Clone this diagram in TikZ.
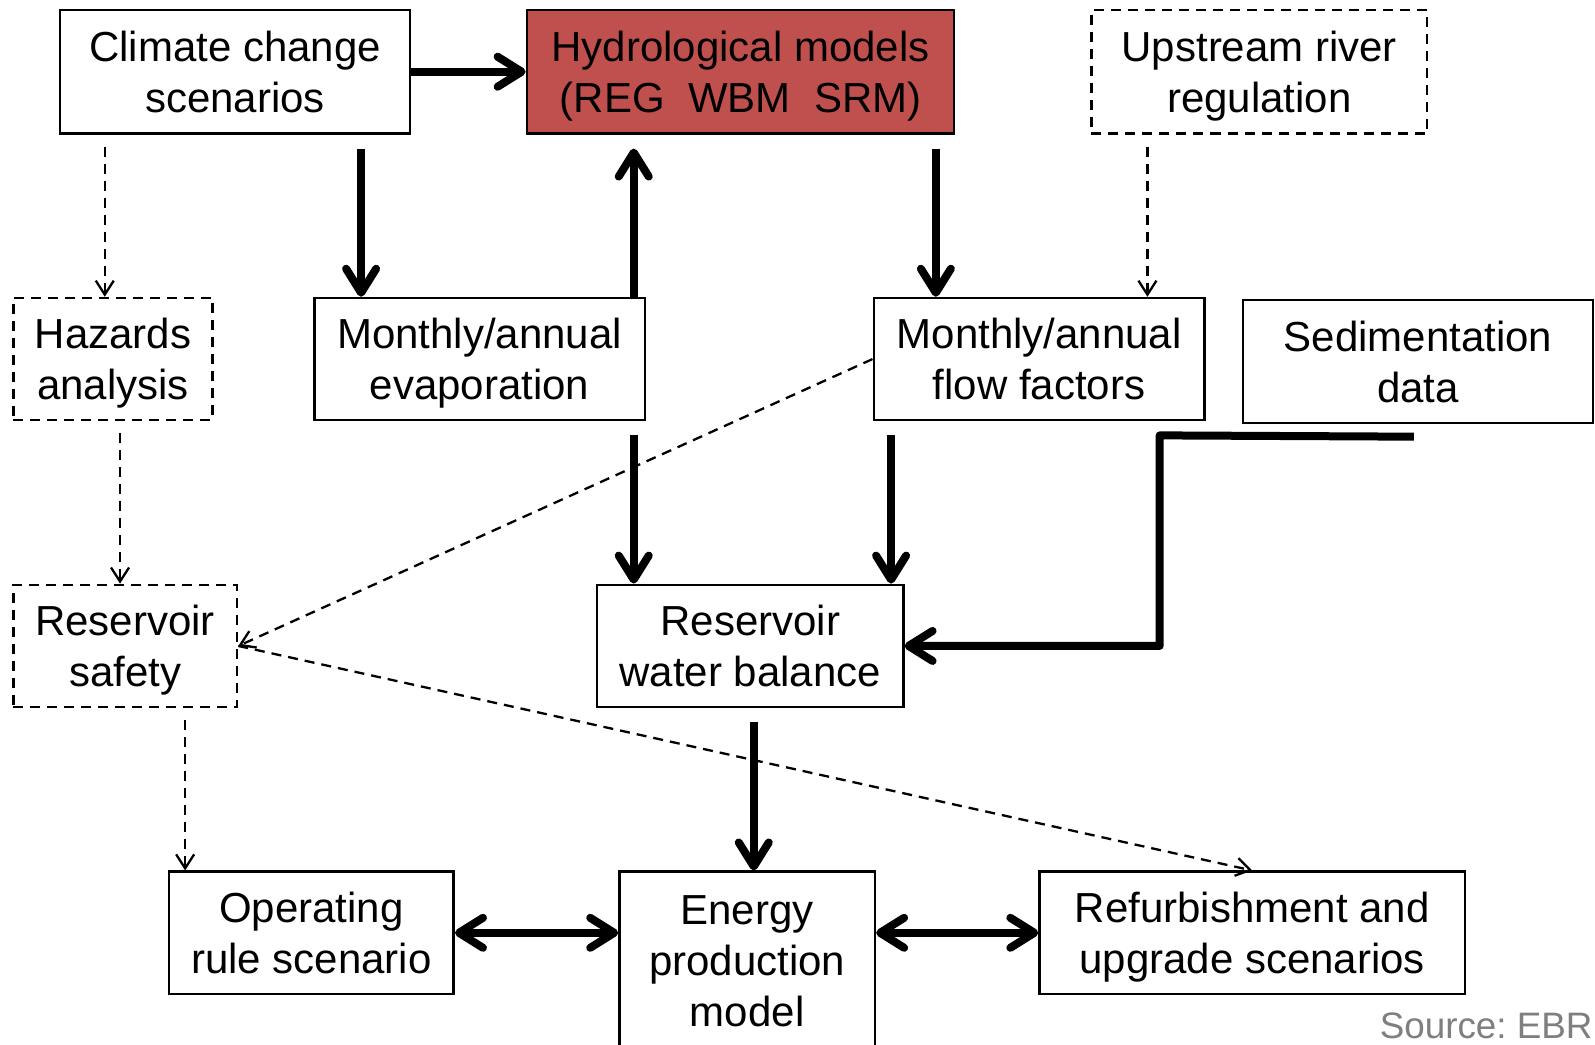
\documentclass[tikz,border=0pt]{standalone}
\usepackage{fontspec}
\setmainfont{Liberation Sans}
\usetikzlibrary{arrows.meta,calc}
\definecolor{hydrored}{HTML}{C0504D}
\definecolor{srcgray}{HTML}{7F7F7F}
% box labels: the block runs from the cap height of the first line
% to the baseline of the last one, so every box centres alike
\newcommand{\twoline}[2]{\rule{0pt}{15pt}\smash{#1}\\\smash{#2}}
\newcommand{\threeline}[3]{\rule{0pt}{15pt}\smash{#1}\\\smash{#2}\\\smash{#3}}

\begin{document}
\begin{tikzpicture}[x=0.5086pt,y=-0.5086pt,
  sz/.style 2 args={minimum width=#1*0.5086pt, minimum height=#2*0.5086pt},
  box/.style={draw, line width=1.3pt, align=center, inner sep=0pt,
    font=\fontsize{21}{25.6}\selectfont},
  dbox/.style={box, dash pattern=on 5pt off 3.5pt},
  bigarrow/.style={line width=4pt, -{Straight Barb[length=12pt,width=15pt,round]}},
  bothways/.style={line width=4pt, {Straight Barb[length=12pt,width=15pt,round]}-{Straight Barb[length=12pt,width=15pt,round]}},
  dasharrow/.style={line width=1.15pt, dash pattern=on 5pt off 3.5pt,
    -{Straight Barb[length=7pt,width=9pt]}},
  gapstart/.style={shorten <=7pt},
  gapend/.style={shorten >=7pt}
]
\clip (0,0) rectangle (1568,1027);
\fill[white] (0,0) rectangle (1568,1027);

% boxes
\node[box, sz={344}{121}] (climate) at (231,70.5) {\twoline{Climate change}{scenarios}};
\node[box, sz={420}{121}, fill=hydrored] (hydro) at (728,70.5) {\twoline{Hydrological models}{(REG\ \ WBM\ \ SRM)}};
\node[dbox, sz={330}{121}] (upstream) at (1238,70.5) {\twoline{Upstream river}{regulation}};
\node[dbox, sz={196}{120}] (hazards) at (111,353) {\twoline{Hazards}{analysis}};
\node[box, sz={325}{120}] (evap) at (471.5,353) {\twoline{Monthly/annual}{evaporation}};
\node[box, sz={325}{120}] (flow) at (1021.5,353) {\twoline{Monthly/annual}{flow factors}};
\node[box, sz={344}{121}] (sed) at (1394,355.5) {\twoline{Sedimentation}{data}};
\node[dbox, sz={220}{120}] (safety) at (123,635) {\twoline{Reservoir}{safety}};
\node[box, sz={301}{120}] (wb) at (737.5,635) {\twoline{Reservoir}{water balance}};
\node[box, sz={280}{120}] (operating) at (306,917) {\twoline{Operating}{rule scenario}};
\node[box, sz={251}{174}] (energy) at (734.5,944) {\threeline{Energy}{production}{model}};
\node[box, sz={418}{120}] (refurb) at (1231,917) {\twoline{Refurbishment and}{upgrade scenarios}};
\node[anchor=east, text=srcgray, inner sep=0pt, font=\fontsize{18.4}{22}\selectfont] (source) at (1566,1008) {Source:\ EBR};

% column positions of the vertical connectors
\coordinate (x103) at (103,0);
\coordinate (x118) at (118,0);
\coordinate (x182) at (182,0);
\coordinate (x355) at (355,0);
\coordinate (x623) at (623,0);
\coordinate (x741) at (741,0);
\coordinate (x876) at (876,0);
\coordinate (x920) at (920,0);
\coordinate (x1128) at (1128,0);

% main flow
\draw[bigarrow] (climate.east) -- (hydro.west);
\draw[bigarrow, gapstart] (climate.south -| x355) -- (evap.north -| x355);
\draw[bigarrow, gapend] (evap.north -| x623) -- (hydro.south -| x623);
\draw[bigarrow, gapstart] (hydro.south -| x920) -- (flow.north -| x920);
\draw[bigarrow, gapstart] (evap.south -| x623) -- (wb.north -| x623);
\draw[bigarrow, gapstart] (flow.south -| x876) -- (wb.north -| x876);
\draw[bigarrow, gapstart] (wb.south -| x741) -- (energy.north -| x741);

% sedimentation feed
\coordinate (sedtail) at ($(sed.south)+(-4,12)$);
\coordinate (sedbend) at (1140,428);
\draw[bigarrow, line join=round] (sedtail) -- (sedbend) |- (wb.east);

% two-way links
\draw[bothways] (operating.east) -- (energy.west |- operating.east);
\draw[bothways] (energy.east |- refurb.west) -- (refurb.west);

% dashed influences
\draw[dasharrow, shorten <=6pt] (climate.south -| x103) -- (hazards.north -| x103);
\draw[dasharrow, shorten <=6pt] (upstream.south -| x1128) -- (flow.north -| x1128);
\draw[dasharrow, shorten <=6pt] (hazards.south -| x118) -- (safety.north -| x118);
\draw[dasharrow, shorten <=6pt] (safety.south -| x182) -- (operating.north -| x182);
\draw[dasharrow] (flow.west) -- (safety.east);
\draw[dasharrow] (safety.east) -- (refurb.north);
\end{tikzpicture}
\end{document}
